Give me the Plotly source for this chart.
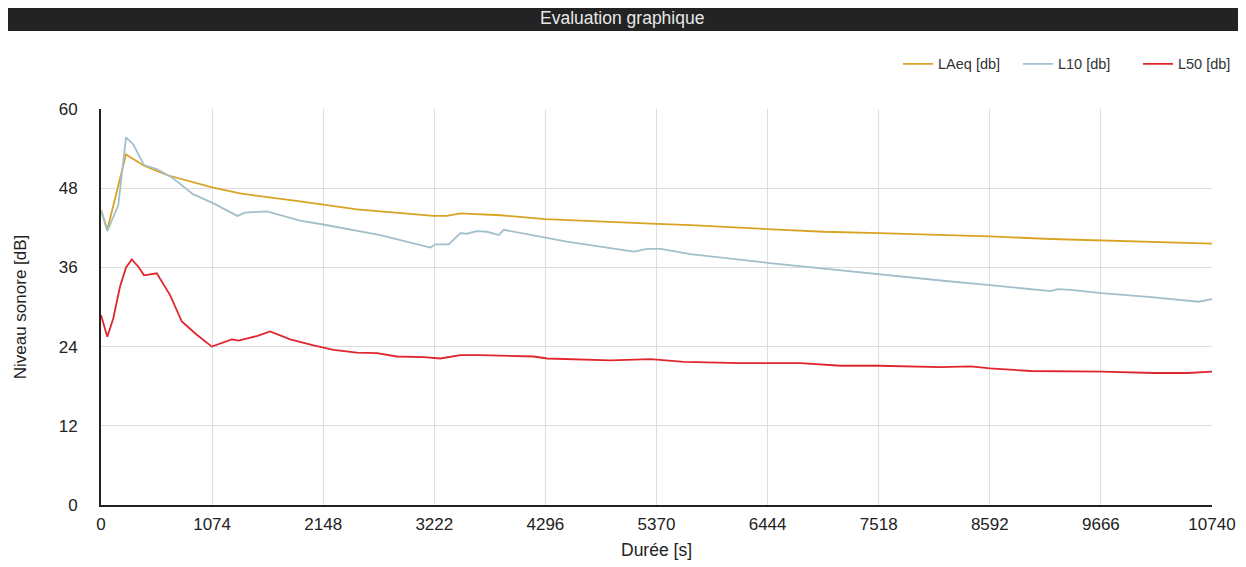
import plotly.graph_objects as go

# ---- data ----
laeq_t = [0, 61, 242, 416, 636, 1084, 1345, 1603, 1925, 2474, 3215, 3345, 3474, 3861,
          4296, 5377, 5699, 6441, 6986, 7518, 8215, 8595, 9183, 9673, 10150, 10740]
laeq_v = [44.7, 41.7, 53.1, 51.4, 50.0, 48.1, 47.2, 46.7, 46.0, 44.8, 43.8, 43.8, 44.2, 43.9,
          43.3, 42.6, 42.4, 41.8, 41.4, 41.2, 40.9, 40.7, 40.3, 40.1, 39.8, 39.6]

l10_t = [0, 61, 167, 242, 313, 416, 539, 697, 890, 1087, 1319, 1393, 1603, 1925, 2148, 2700,
         3184, 3232, 3361, 3474, 3538, 3635, 3732, 3845, 3893, 4180, 4503, 5151, 5280, 5409,
         5699, 6441, 6925, 7518, 8190, 8595, 8957, 9183, 9248, 9377, 9673, 10150, 10612, 10740]
l10_v = [44.7, 41.5, 45.4, 55.7, 54.6, 51.5, 50.9, 49.5, 47.1, 45.7, 43.8, 44.3, 44.5, 43.1, 42.5, 40.9,
         39.0, 39.5, 39.5, 41.2, 41.1, 41.5, 41.4, 40.9, 41.7, 40.9, 39.9, 38.4, 38.8, 38.8,
         38.0, 36.7, 35.9, 35.0, 33.9, 33.3, 32.7, 32.4, 32.7, 32.6, 32.1, 31.5, 30.8, 31.2]

l50_t = [0, 61, 119, 184, 242, 297, 361, 416, 539, 668, 781, 926, 1071, 1183, 1265, 1329,
         1506, 1635, 1829, 2054, 2248, 2474, 2668, 2861, 3119, 3280, 3474, 3667, 4183, 4313,
         4925, 5312, 5635, 6183, 6764, 7151, 7518, 8118, 8409, 8595, 8989, 9673, 10183, 10506, 10740]
l50_v = [28.8, 25.5, 28.3, 33.1, 36.0, 37.2, 36.1, 34.8, 35.1, 31.8, 27.8, 25.8, 24.0, 24.7, 25.1, 24.9,
         25.6, 26.3, 25.1, 24.2, 23.5, 23.1, 23.0, 22.5, 22.4, 22.2, 22.7, 22.7, 22.5, 22.2,
         21.9, 22.1, 21.7, 21.5, 21.5, 21.1, 21.1, 20.9, 21.0, 20.7, 20.3, 20.2, 20.0, 20.0, 20.2]

x_ticks = [0, 1074, 2148, 3222, 4296, 5370, 6444, 7518, 8592, 9666, 10740]
y_ticks = [0, 12, 24, 36, 48, 60]

series_names = ["LAeq [db]", "L10 [db]", "L50 [db]"]
colors = ["#d9a325", "#a3bfcc", "#e0262d"]

FONT = "Liberation Sans, Arial, sans-serif"

fig = go.Figure()
for name, t, v, c in zip(series_names, [laeq_t, l10_t, l50_t], [laeq_v, l10_v, l50_v], colors):
    fig.add_trace(go.Scatter(x=t, y=v, mode="lines", name=name,
                             line=dict(color=c, width=1.8)))

fig.update_layout(
    width=1238, height=559,
    margin=dict(l=93, r=34, t=101, b=62, autoexpand=False),
    paper_bgcolor="white", plot_bgcolor="white",
    font=dict(family=FONT, color="#222", size=14),
    showlegend=True,
    legend=dict(orientation="h", x=1.0414, xanchor="right", y=1.114, yanchor="middle",
                font=dict(size=14.5, color="#333"), itemwidth=30,
                entrywidth=75, entrywidthmode="pixels",
                bgcolor="rgba(0,0,0,0)"),
    shapes=[dict(type="rect", xref="paper", yref="paper",
                 x0=-0.0892, x1=1.0315, y0=1.197, y1=1.26,
                 fillcolor="#232323", line=dict(width=0), layer="above")],
    annotations=[dict(text="Evaluation graphique", xref="paper", yref="paper",
                      x=(622 - 101) / 1110, y=(505 - 18.5) / 396, xanchor="center", yanchor="middle",
                      showarrow=False, font=dict(size=17.5, color="#e8e8e8", family=FONT))],
)
fig.update_xaxes(range=[0, 10740], tickvals=x_ticks, ticktext=[str(v) for v in x_ticks],
                 showgrid=True, gridcolor="#dddddd", gridwidth=1,
                 showline=True, linecolor="#222", linewidth=2,
                 zeroline=False, ticks="", ticklabelstandoff=3,
                 tickfont=dict(size=17, color="#222"),
                 title=dict(text="Durée [s]", font=dict(size=17.5, color="#222"), standoff=10))
fig.update_yaxes(range=[0, 60], tickvals=y_ticks,
                 showgrid=True, gridcolor="#dddddd", gridwidth=1,
                 showline=True, linecolor="#222", linewidth=2,
                 zeroline=False, ticks="", ticklabelstandoff=18,
                 tickfont=dict(size=17, color="#222"),
                 title=dict(text="Niveau sonore [dB]", font=dict(size=17, color="#222"), standoff=28))

fig.write_html("out.html")
